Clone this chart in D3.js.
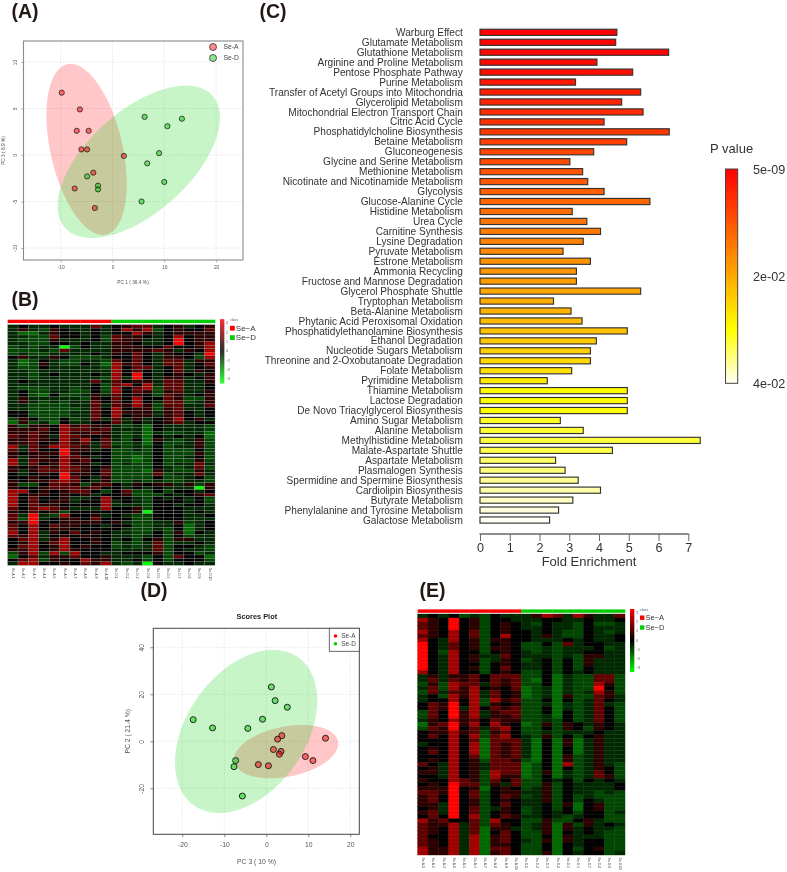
<!DOCTYPE html>
<html><head><meta charset="utf-8">
<script src="https://cdn.jsdelivr.net/npm/d3@7/dist/d3.min.js"></script>
<style>
html,body{margin:0;padding:0;background:#fff}
svg{display:block;font-family:"Liberation Sans",Arial,sans-serif;filter:blur(0.4px)}
</style></head><body><svg id="c" width="787" height="872"></svg>
<script>
// ---------- Panel A scores (PC1, PC3)
const pcaA_SeA=[[-9.8,6.7],[-6.3,4.9],[-6.9,2.6],[-4.6,2.6],[-6,0.6],[-4.9,0.6],[2.2,-0.1],[-3.7,-1.9],[-7.3,-3.6],[-3.4,-5.7]];
const pcaA_SeD=[[6.2,4.1],[10.6,3.1],[13.4,3.9],[9,0.2],[6.7,-0.9],[10,-2.9],[5.6,-5],[-4.9,-2.3],[-2.8,-3.3],[-2.8,-3.7]];
// ellipse: centre x, centre y, half extent x, half extent y, correlation
const pcaA_ellA=[-5,0.6,7.75,9.2,-0.4];
const pcaA_ellD=[5.08,-0.73,15.67,8.19,0.58];
const pcaA_xTicks=[-10,0,10,20], pcaA_yTicks=[-10,-5,0,5,10];
// ---------- Panel D scores (PC3, PC2)
const pcaD_SeA=[[14.1,1.3],[9.3,-6.5],[11.1,-8.2],[3.7,2.4],[2.7,0.9],[1.7,-3.5],[3.5,-4.3],[3.1,-5.5],[-1.9,-9.9],[0.5,-10.4]];
const pcaD_SeD=[[1.2,23.1],[2.1,17.3],[5,14.5],[-0.9,9.4],[-4.4,5.5],[-12.8,5.7],[-17.4,9.2],[-7.3,-8.2],[-7.7,-10.8],[-5.7,-23.3]];
const pcaD_ellA=[4.72,-4.4,12.4,11.35,0.3];
const pcaD_ellD=[-4.8,4.2,16.94,34.7,0.38];
const pcaD_xTicks=[-20,-10,0,10,20], pcaD_yTicks=[-20,0,20,40];
// ---------- Panel C enrichment
const pathways=["Warburg Effect","Glutamate Metabolism","Glutathione Metabolism","Arginine and Proline Metabolism","Pentose Phosphate Pathway","Purine Metabolism","Transfer of Acetyl Groups into Mitochondria","Glycerolipid Metabolism","Mitochondrial Electron Transport Chain","Citric Acid Cycle","Phosphatidylcholine Biosynthesis","Betaine Metabolism","Gluconeogenesis","Glycine and Serine Metabolism","Methionine Metabolism","Nicotinate and Nicotinamide Metabolism","Glycolysis","Glucose-Alanine Cycle","Histidine Metabolism","Urea Cycle","Carnitine Synthesis","Lysine Degradation","Pyruvate Metabolism","Estrone Metabolism","Ammonia Recycling","Fructose and Mannose Degradation","Glycerol Phosphate Shuttle","Tryptophan Metabolism","Beta-Alanine Metabolism","Phytanic Acid Peroxisomal Oxidation","Phosphatidylethanolamine Biosynthesis","Ethanol Degradation","Nucleotide Sugars Metabolism","Threonine and 2-Oxobutanoate Degradation","Folate Metabolism","Pyrimidine Metabolism","Thiamine Metabolism","Lactose Degradation","De Novo Triacylglycerol Biosynthesis","Amino Sugar Metabolism","Alanine Metabolism","Methylhistidine Metabolism","Malate-Aspartate Shuttle","Aspartate Metabolism","Plasmalogen Synthesis","Spermidine and Spermine Biosynthesis","Cardiolipin Biosynthesis","Butyrate Metabolism","Phenylalanine and Tyrosine Metabolism","Galactose Metabolism"];
const foldEnrichment=[4.60,4.56,6.34,3.93,5.13,3.21,5.40,4.76,5.48,4.17,6.36,4.93,3.82,3.02,3.45,3.62,4.17,5.71,3.10,3.59,4.05,3.47,2.79,3.71,3.24,3.24,5.40,2.47,3.06,3.43,4.95,3.91,3.71,3.71,3.08,2.26,4.95,4.95,4.95,2.70,3.47,7.40,4.45,2.54,2.86,3.30,4.05,3.12,2.64,2.34];
const pValues=[5e-9,0.0003,0.0006,0.001,0.0016,0.0025,0.0033,0.004,0.0048,0.0056,0.0065,0.0073,0.0081,0.0088,0.0096,0.0104,0.0112,0.012,0.0128,0.0136,0.0145,0.0153,0.0161,0.0169,0.0177,0.0185,0.0195,0.0203,0.0211,0.0219,0.0227,0.0235,0.0245,0.0255,0.0265,0.0275,0.0295,0.0297,0.0299,0.0315,0.032,0.0325,0.033,0.034,0.035,0.036,0.037,0.038,0.039,0.04];
const foldTicks=[0,1,2,3,4,5,6,7];
const pLegendStops=[5e-9,0.03,0.04];
const pLegendTicks=[["5e-09",5e-9],["2e-02",0.02],["4e-02",0.04]];
// ---------- Panel B heatmap, one string per row, levels 1 (green) to 9 (red)
const heatB=["4544544474 5677456456","4643654454 5868356557","4224655454 5586456666","4433755453 7665458566","4333644453 7664459566","4433554544 6654459568","3434413544 6665575568","3334374444 6666764658","3433444454 6575465549","5644653334 5575466538","4235433443 7575477466","4236433542 8675477457","4335444443 8577457456","4434444444 8575457465","4434544454 8595456546","4434444443 8495466456","4544444474 7566477446","4444444453 7858477445","4333443453 8578377445","4533443353 8576367446","4532533464 7565376456","4644444365 7585576336","4643434475 7585477346","4433334474 7686377447","4433333475 8566367445","5533334475 8666467545","5533334475 8566467545","3653353474 7464568564","2634254455 7454567455","6366586766 4342544443","6667587767 4442544443","6676586676 4342433442","7676487656 4342545452","6676586857 4352643463","6675686747 3342533463","8476887647 4343534463","7475596645 3343533353","6566696555 3333533363","6466587645 3323533453","8476686755 3323533363","8475686645 3433534474","6567687656 3333543473","6467787657 3332643364","5456596657 3333734474","5565597546 3333533453","6566787546 3343433443","6335776367 5465664636","6556777675 5454544416","8856567753 5733535545","8566565645 5633354567","8575564458 5543545453","8575664558 4543555453","8576655558 4443554554","7578764448 5563555444","6575635555 5561555454","7494385564 5433555445","7394566575 5533555444","6695566665 6433446345","7585766554 5533445245","7585665555 5433435245","8584657565 4433536254","7684565655 4434535344","5784685565 4535636644","5685785565 3434734454","5785685655 3434735543","6685686555 4444735443","3683838554 4555635534","2574667556 4443537552","5783655866 4453535553","4885565768 4341544544"];
// ---------- Panel E heatmap
const heatE=["4545343544 4687486447","8659563554 4455445445","7659563565 4354435334","7659563565 4454435444","8658573565 5454335434","7658573585 5464335445","8548563665 5444545445","9547563565 3353745544","9547563665 3343444534","9538553565 4343445544","9548564475 4443436644","9548563465 3453536444","9548553565 4453536444","9548563575 4453535444","8548553565 3353545444","4646675777 3352433773","4747675767 3252433773","3638774767 3352433863","4738685657 2342433953","3747684756 2342434863","4538684756 2342633764","4558583867 3352534754","5769583656 3342434743","5769485767 3352434753","3759684677 3352534753","3759684667 3342534753","4658675766 3343534753","2679685865 2363654654","3769574785 3353653654","5668673675 3343444544","5758583785 4363535644","5558572777 4252624644","4558582767 4252624644","5658582767 4252524644","5758582767 4252524644","5558572767 4252634644","5658563776 3252634644","7548564777 2352834643","5648564777 2352534653","6648563877 2362434753","5548563866 2352434763","6558763757 3354535454","5659773647 3363544445","6669562565 3463544445","7769573566 4463544343","6759573576 3463534333","6759563565 4463535433","6649563575 4453625633","5649573465 3453525633","6749573565 3454535534","5759583576 4454345533","8675573855 3363356433","7668473765 3462636454","7658472664 3462645443","7658472575 3362545433","7558482675 3352644433","7658482675 4362645533","7658482665 3352545533","8668482775 3352535633","8668482675 3362545534"];
const heatLevels=[-3.4,-1.4,-0.93,-0.53,0,0.6,1.27,2.13,3.4];
const samples=d3.range(1,11).map(i=>"Se-A-"+i).concat(d3.range(1,11).map(i=>"Se-D-"+i));
const classNames=["Se\u2212A","Se\u2212D"];
const heatLegendTicks=[3,2,1,0,-1,-2,-3];

const svg=d3.select("#c");

// panel letters
[["(A)",11.5,17.7],["(B)",11.5,306],["(C)",259.5,17.7],["(D)",140.5,597],["(E)",419.5,597]].forEach(d=>{
  svg.append("text").attr("x",d[1]).attr("y",d[2]).attr("font-size",19.5).attr("font-weight","bold").attr("fill","#231815").text(d[0]);
});

function ellipsePts(e){
  const phi=Math.acos(e[4]);
  return d3.range(0,2*Math.PI+0.02,0.02).map(t=>[e[0]+e[2]*Math.cos(t),e[1]+e[3]*Math.cos(t-phi)]);
}

function scatter(o){
  const g=svg.append("g");
  const x=d3.scaleLinear().domain(o.xd).range([o.l,o.r]);
  const y=d3.scaleLinear().domain(o.yd).range([o.b,o.t]);
  const line=d3.line().x(d=>x(d[0])).y(d=>y(d[1]));
  o.xt.forEach(v=>g.append("line").attr("x1",x(v)).attr("x2",x(v)).attr("y1",o.t).attr("y2",o.b).attr("stroke","#ddd").attr("stroke-width",.7).attr("stroke-dasharray","1.5,1.5"));
  o.yt.forEach(v=>g.append("line").attr("y1",y(v)).attr("y2",y(v)).attr("x1",o.l).attr("x2",o.r).attr("stroke","#ddd").attr("stroke-width",.7).attr("stroke-dasharray","1.5,1.5"));
  g.append("path").attr("d",line(ellipsePts(o.ellA))).attr("fill","rgb(255,0,0)").attr("fill-opacity",.22);
  g.append("path").attr("d",line(ellipsePts(o.ellD))).attr("fill","rgb(0,210,0)").attr("fill-opacity",.22);
  g.selectAll(null).data(o.ptsA).join("circle").attr("cx",d=>x(d[0])).attr("cy",d=>y(d[1])).attr("r",o.pr).attr("fill","rgb(255,0,0)").attr("fill-opacity",.5).attr("stroke","#222").attr("stroke-width",o.psw);
  g.selectAll(null).data(o.ptsD).join("circle").attr("cx",d=>x(d[0])).attr("cy",d=>y(d[1])).attr("r",o.pr).attr("fill","rgb(0,205,0)").attr("fill-opacity",.5).attr("stroke","#222").attr("stroke-width",o.psw);
  g.append("rect").attr("x",o.l).attr("y",o.t).attr("width",o.r-o.l).attr("height",o.b-o.t).attr("fill","none").attr("stroke",o.box).attr("stroke-width",o.bw);
  const ax=g.append("g").attr("transform",`translate(0,${o.b})`).call(d3.axisBottom(x).tickValues(o.xt).tickFormat(String).tickSize(o.ts).tickPadding(o.tp));
  ax.select(".domain").remove();
  ax.selectAll("line").attr("stroke",o.box).attr("stroke-width",.6);
  ax.selectAll("text").attr("font-size",o.fs).attr("font-family","inherit").attr("fill",o.tc);
  const ay=g.append("g").attr("transform",`translate(${o.l},0)`).call(d3.axisLeft(y).tickValues(o.yt).tickFormat(String).tickSize(o.ts).tickPadding(o.tp));
  ay.select(".domain").remove();
  ay.selectAll("line").attr("stroke",o.box).attr("stroke-width",.6);
  ay.selectAll("text").attr("font-size",o.fs).attr("font-family","inherit").attr("fill",o.tc)
    .attr("text-anchor","middle").attr("dy",0).attr("x",0)
    .attr("transform",d=>`translate(${-o.ts-o.tp-1},0) rotate(-90)`);
  g.append("text").attr("x",o.xtx).attr("y",o.xty).attr("text-anchor","middle").attr("font-size",o.fs).attr("fill",o.tc).text(o.xl);
  g.append("text").attr("transform",`translate(${o.ytx},${(o.t+o.b)/2}) rotate(-90)`).attr("text-anchor","middle").attr("font-size",o.fs).attr("fill",o.tc).text(o.yl);
}

// Panel A
scatter({l:23.5,r:243,t:41,b:260,
  xd:[(23.5-112.5)/5.18,(243-112.5)/5.18], yd:[(155-260)/9.3,(155-41)/9.3],
  xt:pcaA_xTicks,yt:pcaA_yTicks,ptsA:pcaA_SeA,ptsD:pcaA_SeD,ellA:pcaA_ellA,ellD:pcaA_ellD,
  pr:2.6,psw:.8,box:"#8a8a8a",bw:1.1,ts:2.5,tp:3,fs:4.8,tc:"#555",xl:"PC 1 ( 36.4 %)",yl:"PC 3 ( 8.9 %)",xtx:133,xty:284,ytx:5});
[["Se-A",47,"rgb(255,0,0)"],["Se-D",58,"rgb(0,205,0)"]].forEach(d=>{
  svg.append("circle").attr("cx",213).attr("cy",d[1]).attr("r",3.5).attr("fill",d[2]).attr("fill-opacity",.45).attr("stroke","#222").attr("stroke-width",.7);
  svg.append("text").attr("x",223.5).attr("y",d[1]+2.4).attr("font-size",6.8).attr("fill","#444").text(d[0]);
});

// Panel D
scatter({l:153.3,r:359.3,t:628.3,b:834.3,
  xd:[(153.3-266.3)/4.2,(359.3-266.3)/4.2], yd:[(741.3-834.3)/2.35,(741.3-628.3)/2.35],
  xt:pcaD_xTicks,yt:pcaD_yTicks,ptsA:pcaD_SeA,ptsD:pcaD_SeD,ellA:pcaD_ellA,ellD:pcaD_ellD,
  pr:3,psw:1,box:"#444",bw:1,ts:3,tp:5,fs:6.8,tc:"#555",xl:"PC 3 ( 10 %)",yl:"PC 2 ( 21.4 %)",xtx:256.5,xty:864,ytx:130});
svg.append("text").attr("x",256.8).attr("y",619).attr("text-anchor","middle").attr("font-size",7.4).attr("font-weight","bold").attr("fill","#222").text("Scores Plot");
svg.append("rect").attr("x",329.3).attr("y",628.3).attr("width",30).attr("height",23).attr("fill","#fff").attr("stroke","#444").attr("stroke-width",.8);
[["Se-A",636,"#f00"],["Se-D",643.7,"#0c0"]].forEach(d=>{
  svg.append("circle").attr("cx",335.5).attr("cy",d[1]).attr("r",1.8).attr("fill",d[2]);
  svg.append("text").attr("x",341.3).attr("y",d[1]+2.2).attr("font-size",6.4).attr("fill","#444").text(d[0]);
});

// Panel C
const fx=d3.scaleLinear().domain([0,7]).range([480,688.3]);
const fy=d3.scaleBand().domain(pathways).range([27.33,525]).paddingInner(.38).paddingOuter(.19);
const pColor=d3.scaleLinear().domain(pLegendStops).range(["#ff0000","#ffff00","#fffff4"]);
const gc=svg.append("g");
gc.selectAll("rect").data(pathways).join("rect")
  .attr("x",fx(0)).attr("y",d=>fy(d)).attr("height",fy.bandwidth())
  .attr("width",(d,i)=>fx(foldEnrichment[i])-fx(0))
  .attr("fill",(d,i)=>pColor(pValues[i])).attr("stroke","#333").attr("stroke-width",1.15);
gc.selectAll("text.lab").data(pathways).join("text").attr("class","lab")
  .attr("x",462.8).attr("y",d=>fy(d)+fy.bandwidth()/2+3.6).attr("text-anchor","end")
  .attr("font-size",10.1).attr("fill","#333").text(d=>d);
const fax=gc.append("g").attr("transform","translate(0,534)").call(d3.axisBottom(fx).tickValues(foldTicks).tickFormat(d3.format("d")).tickSize(7).tickPadding(2));
fax.select(".domain").remove();
fax.selectAll("line").attr("stroke","#666").attr("stroke-width",1);
fax.selectAll("text").attr("font-size",12.6).attr("font-family","inherit").attr("fill","#333");
gc.append("line").attr("x1",fx(0)-.5).attr("x2",fx(7)+.5).attr("y1",534).attr("y2",534).attr("stroke","#666").attr("stroke-width",1.4);
gc.append("text").attr("x",589).attr("y",566).attr("text-anchor","middle").attr("font-size",13).attr("fill","#333").text("Fold Enrichment");
// colour bar
svg.append("text").attr("x",710).attr("y",153).attr("font-size",13).attr("fill","#333").text("P value");
const cbY=d3.scaleLinear().domain([5e-9,0.04]).range([169,383.3]);
const defs=svg.append("defs");
const grad=defs.append("linearGradient").attr("id","pgrad").attr("x1",0).attr("x2",0).attr("y1",0).attr("y2",1);
pLegendStops.forEach(v=>grad.append("stop").attr("offset",(cbY(v)-169)/(383.3-169)).attr("stop-color",pColor(v)));
svg.append("rect").attr("x",725.5).attr("y",169).attr("width",12.2).attr("height",214.3).attr("fill","url(#pgrad)").attr("stroke","#444").attr("stroke-width",1);
pLegendTicks.forEach(d=>svg.append("text").attr("x",753).attr("y",cbY(d[1])+4.5).attr("font-size",12.6).attr("fill","#333").text(d[0]));

// heatmaps
const heatColor=d3.scaleLinear().domain([-3.4,0,3.4]).range(["#00ff00","#000000","#ff0000"]).clamp(true);
function heatmap(rows,o){
  const m=rows.map(s=>s.replace(/ /g,"").split("").map(c=>heatLevels[+c-1]));
  const x=d3.scaleBand().domain(samples).range([o.l,o.r]);
  const y=d3.scaleBand().domain(d3.range(rows.length)).range([o.t,o.b]);
  const g=svg.append("g");
  m.forEach((row,i)=>row.forEach((v,j)=>{
    g.append("rect").attr("x",x(samples[j])).attr("y",y(i)).attr("width",x.bandwidth()).attr("height",y.bandwidth())
      .attr("fill",heatColor(v)).attr("stroke",o.border||heatColor(v)).attr("stroke-width",o.border?.3:.4);
  }));
  samples.forEach((s,j)=>{
    g.append("rect").attr("x",x(s)).attr("y",o.annT).attr("width",x.bandwidth()+.3).attr("height",o.annH)
      .attr("fill",j<10?"#ff0000":"#06cc06");
    g.append("text").attr("transform",`translate(${x(s)+x.bandwidth()/2-1.1},${o.labY}) rotate(90)`)
      .attr("font-size",3.3).attr("fill","#444").text(s);
  });
  // legend
  const lg=svg.append("g");
  const cy=d3.scaleLinear().domain([3.4,-3.4]).range([o.cT,o.cB]);
  d3.range(o.cT,o.cB,1).forEach(py=>{
    lg.append("rect").attr("x",o.cL).attr("y",py).attr("width",4.3).attr("height",1.1).attr("fill",heatColor(cy.invert(py+.5)));
  });
  heatLegendTicks.forEach(v=>lg.append("text").attr("x",o.cL+6).attr("y",cy(v)+1.2).attr("font-size",3.6).attr("fill","#555").text(String(v).replace("-","\u2212")));
  lg.append("text").attr("x",o.sL).attr("y",o.cT+1.6).attr("font-size",3.6).attr("fill","#555").text("class");
  classNames.forEach((c,i)=>{
    const sy=o.cT+o.sT+i*o.sS;
    lg.append("rect").attr("x",o.sL).attr("y",sy).attr("width",o.sW).attr("height",o.sW).attr("fill",i?"#06cc06":"#ff0000");
    lg.append("text").attr("x",o.sL+o.sW+1).attr("y",sy+o.sW).attr("font-size",o.sF).attr("fill","#333").text(c);
  });
}
heatmap(heatB,{l:7.7,r:215,t:324.7,b:565.3,annT:319.7,annH:3.4,labY:568,border:"#8a8a8a",
  cL:220,cT:319.3,cB:382.7,sL:230,sT:6.5,sS:9.4,sW:4.8,sF:8});
heatmap(heatE,{l:417.7,r:625,t:614,b:855,annT:609.4,annH:3.4,labY:857.5,
  cL:630,cT:609,cB:672,sL:640,sT:6.5,sS:9.8,sW:4.4,sF:7.5});
</script></body></html>
